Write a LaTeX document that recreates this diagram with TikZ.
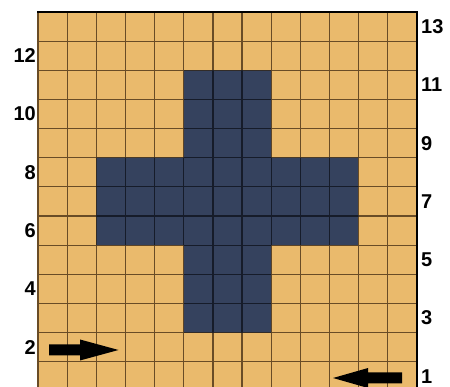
\documentclass[tikz,border=0pt]{standalone}
\usepackage{fontspec}
\setmainfont{Liberation Sans}
\definecolor{tan}{RGB}{234,186,108}
\definecolor{navy}{RGB}{53,66,94}
\definecolor{gridbrown}{RGB}{105,76,38}
\definecolor{griddark}{RGB}{22,28,42}
\begin{document}
\begin{tikzpicture}[x=1pt,y=-1pt,
  gridline/.style={draw=gridbrown,line width=1.2pt},
  darkline/.style={draw=griddark,line width=1.2pt},
  border/.style={draw=black,line width=2pt},
  numlabel/.style={font=\fontsize{20}{22}\selectfont\bfseries,inner sep=0pt},
  arrowshape/.style={fill=black}]
\useasboundingbox (0,0) rectangle (450,387);
\clip (0,0) rectangle (450,387);
% background of the board
\fill[tan] (38,12) rectangle (417.0,391);
% cross
\fill[navy] (183.75,70.3) rectangle (271.2,332.65);
\fill[navy] (96.3,157.75) rectangle (358.65,245.2);
% grid lines
\foreach \i in {0,...,13} {
  \draw[gridline] (38+\i*29.15,12) -- (38+\i*29.15,392);
  \draw[gridline] (38,12+\i*29.15) -- (417,12+\i*29.15);
}
% darker grid lines over the cross
\begin{scope}
  \clip (183.75,70.3) rectangle (271.2,332.65) (96.3,157.75) rectangle (358.65,245.2);
  \foreach \i in {0,...,13} {
    \draw[darkline] (38+\i*29.15,12) -- (38+\i*29.15,392);
    \draw[darkline] (38,12+\i*29.15) -- (417,12+\i*29.15);
  }
\end{scope}
% borders
\draw[border] (37,12) -- (417,12) -- (417,392);
% row labels
\foreach \r in {12,10,8,6,4,2} {
  \node[numlabel,anchor=east] (L\r) at (36,12+13.5*29.15-\r*29.15) {\r};
}
\foreach \r in {13,11,9,7,5,3,1} {
  \node[numlabel,anchor=west] (R\r) at (421,12+13.5*29.15-\r*29.15) {\r};
}
% arrows
\fill[arrowshape] (49,344.5) -- (80,344.5) -- (80,339.5) -- (118.5,350) -- (80,360.5) -- (80,355.5) -- (49,355.5) -- cycle;
\fill[arrowshape] (402,372.5) -- (368,372.5) -- (368,368) -- (333,378) -- (368,388) -- (368,383.5) -- (402,383.5) -- cycle;
\end{tikzpicture}
\end{document}
